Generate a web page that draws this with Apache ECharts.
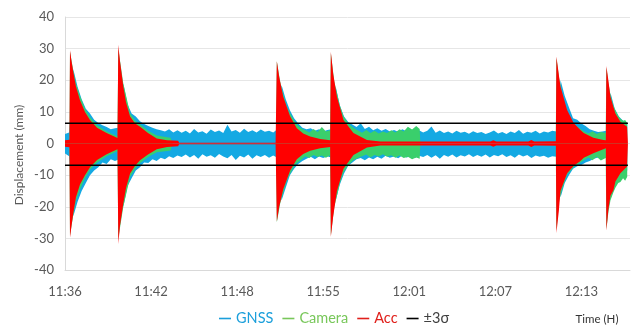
<!DOCTYPE html>
<html>
<head>
<meta charset="utf-8">
<script src="https://cdn.jsdelivr.net/npm/echarts@6/dist/echarts.min.js"></script>
<style>
html,body{margin:0;padding:0;background:#fff;}
#c{width:633px;height:329px;}
</style>
</head>
<body>
<div id="c"></div>
<script>
// ---- tick labels (minutes from 11:36, one label every 6.2 min) ----
const tickLabels = ['11:36','11:42','11:48','11:55','12:01','12:07','12:13'];
const tickStep = 6.2;
const xMax = 40.7;
const yTicks = [-40,-30,-20,-10,0,10,20,30,40];

// ---- ±3σ levels (mm) ----
const sigmaUp = 6.4;
const sigmaLo = -6.9;
const sigmaEnd = 40.55;

// ---- GNSS envelope, sampled every 0.3 min from 11:36 ----
const gnssStart = 0;
const gnssStep = 0.3;
const gnssUp = [
 3.0,3.5,23.5,18,14,11,9.5,7.5,6.5,5.8,
 5.2,4.5,4.8,5,19,12.5,9.5,8.5,7,6.2,
 5.5,5,4.5,4.2,3.8,4.5,3.5,4.2,3.4,4.0,
 3.2,4.6,3.5,3.9,3.1,4.4,3.6,4.1,3.3,5.9,
 3.8,4.3,3.4,4.7,3.6,4.2,3.5,4.4,3.7,4.0,
 3.5,4.5,18.5,14,10.5,8,6.3,5,4.5,4.8,
 4.0,4.5,3.8,4.3,4.5,18,12,8.5,6.8,6,
 5.2,6.4,4.6,5.3,4.2,4.8,4.0,4.6,3.8,4.3,
 3.7,4.5,3.9,4.4,3.6,4.2,3.5,4.0,5.4,3.4,
 4.1,3.3,3.8,3.2,4.0,3.4,3.7,3.1,3.9,3.3,
 3.6,3.0,3.5,4.1,3.2,3.6,3.0,3.8,3.3,4.3,
 3.1,3.7,3.4,4.0,3.2,3.8,3.5,4.0,3.8,20,
 15,11.5,8,7.5,6.3,5.5,4.5,4.0,3.6,3.8,
 4,16,11,8.5,7.2,6.5
];
const gnssLo = [
 -3.2,-4.0,-23,-18.5,-15,-12.5,-10,-8.5,-7.5,-6,
 -6.5,-5,-5.5,-5,-20,-13.5,-11,-8.5,-7.5,-6,
 -6.2,-5,-5.5,-4.5,-5,-4,-4.6,-3.8,-4.3,-3.5,
 -4.4,-3.6,-4.8,-3.4,-4.2,-3.7,-4.5,-3.3,-4.1,-4.7,
 -3.6,-5.2,-3.9,-4.4,-3.5,-4.8,-3.7,-4.3,-3.6,-4.5,
 -3.8,-4.5,-18,-14,-10,-8,-6.5,-5.5,-4.8,-4.2,
 -5,-4.1,-4.6,-4.0,-4.5,-18,-13,-9.5,-7,-6,
 -5,-4.6,-5.3,-4.4,-5,-4.2,-4.8,-3.9,-4.5,-4.1,
 -4.7,-3.8,-4.4,-4.0,-4.6,-3.9,-4.3,-3.6,-4.5,-3.7,
 -4.8,-3.6,-4.2,-3.5,-4.4,-3.7,-4.1,-3.4,-4.3,-3.6,
 -4.2,-3.5,-4.4,-3.6,-4.0,-3.4,-4.3,-3.7,-4.5,-3.5,
 -4.1,-3.6,-4.6,-3.8,-4.2,-3.9,-4.5,-4.0,-4.2,-17,
 -12.5,-10,-8,-7.2,-6.8,-6,-5.5,-4.8,-4.4,-4.6,
 -4,-17.5,-13,-11,-9.5,-8.5
];

// ---- Camera envelope (minutes from 11:36) ----
const camT = [0,0.32,0.36,0.60,0.79,1.08,1.44,1.80,2.31,3.00,
 3.78,3.84,4.20,4.69,5.05,5.41,5.98,6.61,7.35,7.6,
 7.75,15.2,15.26,15.5,15.72,16.0,16.22,16.5,16.7,17.0,
 17.3,17.6,17.9,18.2,18.5,18.8,19.1,19.15,19.4,19.59,
 19.8,20.06,20.4,20.78,21.1,21.4,21.7,22.0,22.3,22.6,
 22.9,23.2,23.5,23.8,24.1,24.4,24.7,25.0,25.3,25.55,
 25.6,35.35,35.4,35.6,35.81,36.17,36.65,37.13,37.4,37.7,
 38.0,38.3,38.6,38.95,39.0,39.15,39.29,39.5,39.65,39.85,
 40.01,40.2,40.35,40.5];
const camUp = [0.5,0.5,29,23,19,15,11,8.3,5.8,3.8,
 2.2,30,19,9.5,7.2,6,4,2.5,2,1.8,
 0,0,26,19.5,15.5,11.5,9.5,7.3,6,4.8,
 4.2,3.5,4.6,3.6,5.2,3.8,4.2,28.5,19.5,16,
 12,8.6,6.3,4.9,4.1,3.4,4.3,3.3,4.0,3.2,
 3.8,3.3,4.2,3.5,4.5,3.8,5.3,4.4,5.5,4.6,
 0,0,27,20.5,16,10,6.2,4.6,3.8,3.2,
 3.9,3.0,3.6,3.3,24,19,15.5,12,10.5,8.8,
 7.8,7.2,7.4,6.5];
const camLo = [-0.5,-0.5,-29,-22.5,-18,-14.5,-11,-8.3,-6,-4,
 -2.4,-30,-20,-10.5,-8,-6.2,-4.3,-2.8,-2.4,-2.2,
 0,0,-25,-19,-15.5,-11.5,-9.5,-7.3,-6.2,-5.2,
 -4.0,-4.6,-3.6,-4.3,-3.8,-4.5,-3.7,-29,-20,-16.5,
 -12.5,-9.2,-6.8,-5.2,-4.6,-4.0,-3.5,-4.4,-3.6,-4.1,
 -3.4,-4.2,-3.7,-4.5,-3.8,-4.6,-4.2,-5.0,-4.4,-4.8,
 0,0,-27.5,-18,-14.5,-9.8,-7.4,-6.0,-5.2,-4.4,
 -5.3,-4.2,-5.4,-4.6,-27,-21.5,-18,-15.5,-14,-12.5,
 -12.2,-11,-11.8,-10.5];

// ---- Accelerometer envelope (minutes from 11:36) ----
const accT = [0,0.32,0.36,0.47,0.60,0.79,1.08,1.44,1.80,2.31,
 3.00,3.78,3.81,3.84,3.96,4.20,4.40,4.69,5.05,5.41,
 5.98,6.61,7.35,8.15,8.22,15.17,15.26,15.43,15.72,16.22,
 16.70,17.16,17.66,18.38,19.10,19.15,19.32,19.59,20.06,20.78,
 21.75,22.71,30.64,30.85,31.07,33.38,33.59,33.81,35.36,35.40,
 35.58,35.69,36.17,36.65,37.13,37.37,38.06,38.78,38.96,39.00,
 39.14,39.29,39.51,39.65,40.01,40.49,40.55];
const accUp = [1.0,1.2,29.5,26,22.5,18,13.7,10,7.4,5,
 3.3,1.7,2,31.2,26,18,13,8.5,6.3,5.3,
 3.3,1.6,1.0,0.9,0.25,0.25,26,21,14.8,8.5,
 4.8,3.2,2.2,1.4,1.0,29,22,14.8,7.4,3.3,
 1.1,0.6,0.6,1.0,0.6,0.6,1.1,0.6,0.7,27.5,
 21.5,18,10.6,6.4,4.3,3.3,1.8,1.1,1.0,24.5,
 20,14.8,11.5,9.5,6.9,5.3,5.0];
const accLo = [-1.0,-1.2,-29.8,-26,-22,-17,-13,-10,-7.5,-5.2,
 -3.4,-1.8,-2,-31.8,-26,-19,-14,-9.5,-7,-5.3,
 -3.5,-1.8,-1.1,-0.9,-0.25,-0.25,-24.7,-20,-14.5,-8.5,
 -5,-3.3,-2.3,-1.5,-1.1,-29.5,-23,-15,-8,-3.6,
 -1.3,-0.6,-0.6,-1.0,-0.6,-0.6,-1.1,-0.6,-0.7,-28.3,
 -21,-15,-9.4,-7,-5.5,-4.5,-3.1,-1.8,-1.5,-27.6,
 -21,-16.5,-14.7,-12,-9.4,-7.3,-7.0];

// ---- styles ----
const C_GNSS = '#14A9E3';
const C_CAM = '#3ACF6C';
const C_ACC = '#FF0000';
const FONT = 'Lato, "Noto Sans", sans-serif';

function zipT(t, v) { return v.map((y, i) => [t[i], y]); }
function gridT(start, step, v) { return v.map((y, i) => [+(start + i * step).toFixed(3), y]); }

function band(name, color, data, z) {
  return {
    name: name, type: 'line', data: data, color: color,
    symbol: 'none', showSymbol: false, smooth: false, sampling: null,
    lineStyle: { width: 0, color: color },
    itemStyle: { color: color },
    areaStyle: { color: color, opacity: 1 },
    z: z, silent: true, animation: false
  };
}

const series = [
  band('GNSS', C_GNSS, gridT(gnssStart, gnssStep, gnssUp), 2),
  band('GNSS', C_GNSS, gridT(gnssStart, gnssStep, gnssLo), 2),
  band('Camera', C_CAM, zipT(camT, camUp), 3),
  band('Camera', C_CAM, zipT(camT, camLo), 3),
  band('Acc', C_ACC, zipT(accT, accUp), 4),
  band('Acc', C_ACC, zipT(accT, accLo), 4),
  { name: '±3σ', type: 'line', data: [[0, sigmaUp], [sigmaEnd, sigmaUp]], color: '#000',
    symbol: 'none', lineStyle: { color: '#000', width: 1.6 }, itemStyle: { color: '#000' }, z: 6, silent: true, animation: false },
  { name: '±3σ', type: 'line', data: [[0, sigmaLo], [sigmaEnd, sigmaLo]], color: '#000',
    symbol: 'none', lineStyle: { color: '#000', width: 1.6 }, itemStyle: { color: '#000' }, z: 6, silent: true, animation: false }
];

const chart = echarts.init(document.getElementById('c'), null, { renderer: 'canvas' });
chart.setOption({
  animation: false,
  backgroundColor: '#fff',
  grid: { left: 65, right: 3, top: 17, bottom: 59 },
  xAxis: {
    type: 'value', min: 0, max: xMax, interval: tickStep,
    axisLine: { show: true, onZero: false, lineStyle: { color: '#d9d9d9', width: 1 } },
    axisTick: { show: false },
    splitLine: { show: false },
    axisLabel: {
      margin: 15, fontSize: 13, color: '#595959', fontFamily: FONT, showMaxLabel: false,
      formatter: function (v) {
        const idx = Math.round(v / tickStep);
        if (Math.abs(v - idx * tickStep) > 0.05) return '';
        return tickLabels[idx] || '';
      }
    }
  },
  yAxis: {
    type: 'value', min: yTicks[0], max: yTicks[yTicks.length - 1], interval: 10,
    axisLine: { show: true, lineStyle: { color: '#d9d9d9', width: 1 } },
    axisTick: { show: false },
    splitLine: { show: true, lineStyle: { color: '#e6e6e6', width: 1 } },
    axisLabel: { margin: 11, fontSize: 13, color: '#595959', fontFamily: FONT }
  },
  legend: {
    left: 214, top: 306, selectedMode: false,
    icon: 'rect', itemWidth: 12, itemHeight: 1.6, itemGap: 9,
    textStyle: { fontSize: 14.5, fontFamily: FONT },
    data: [
      { name: 'GNSS', textStyle: { color: '#1B9FDB' }, itemStyle: { color: '#1B9FDB' } },
      { name: 'Camera', textStyle: { color: '#78C75A' }, itemStyle: { color: '#78C75A' } },
      { name: 'Acc', textStyle: { color: '#E0201B' }, itemStyle: { color: '#E0201B' } },
      { name: '±3σ', textStyle: { color: '#404040' }, itemStyle: { color: '#000' } }
    ]
  },
  graphic: [
    { type: 'text', x: 19, y: 155, rotation: Math.PI / 2, silent: true,
      style: { text: 'Displacement (mm)', fill: '#595959', font: '12px ' + FONT,
        textAlign: 'center', textVerticalAlign: 'middle', align: 'center', verticalAlign: 'middle' } },
    { type: 'text', x: 597, y: 319, silent: true,
      style: { text: 'Time (H)', fill: '#333', font: '11.5px ' + FONT,
        textAlign: 'center', textVerticalAlign: 'middle', align: 'center', verticalAlign: 'middle' } }
  ],
  series: series
});
</script>
</body>
</html>
